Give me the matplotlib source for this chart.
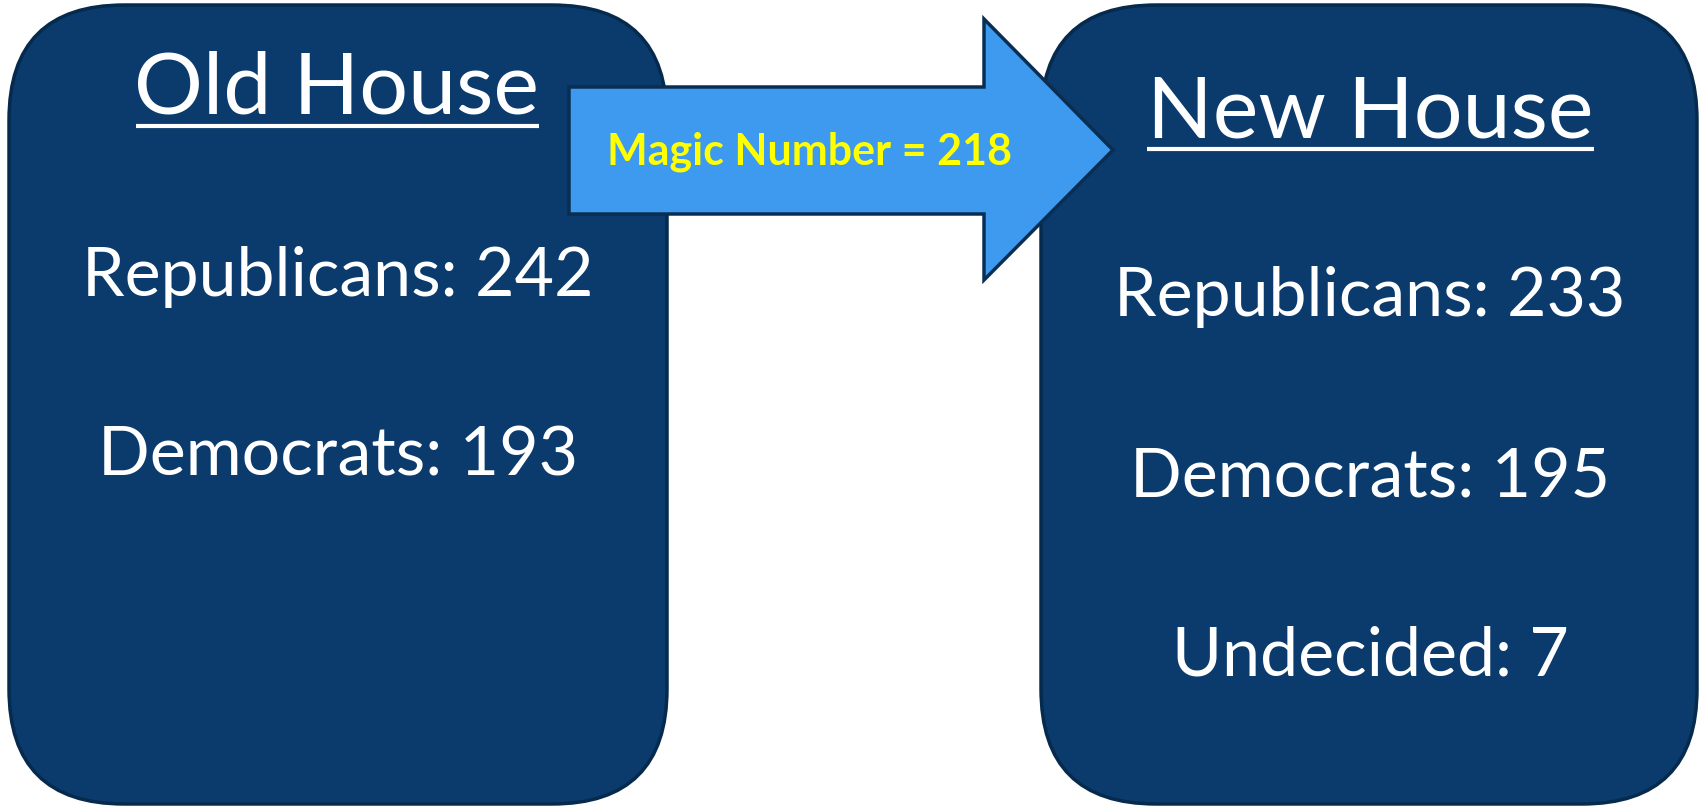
import matplotlib.pyplot as plt
from matplotlib.patches import FancyBboxPatch, Polygon

# data
old_title = 'Old House'
old_parties = ['Republicans', 'Democrats']
old_seats = [242, 193]

new_title = 'New House'
new_parties = ['Republicans', 'Democrats', 'Undecided']
new_seats = [233, 195, 7]

magic_number = 218

# colours
box_fill = '#0a3b6c'
box_edge = '#062a4d'
arrow_fill = '#3d9aee'
arrow_edge = '#0a2d52'

plt.rcParams['font.family'] = ['Lato', 'DejaVu Sans']

fig = plt.figure(figsize=(17, 8.08), dpi=100)
ax = fig.add_axes([0, 0, 1, 1])
ax.set_xlim(0, 1700)
ax.set_ylim(808, 0)
ax.axis('off')

# boxes (pixel coordinates, y down)
ax.add_patch(FancyBboxPatch((9, 5), 658, 799, boxstyle='round,pad=0,rounding_size=115',
                            fc=box_fill, ec=box_edge, lw=2.5, zorder=1))
ax.add_patch(FancyBboxPatch((1041, 5), 656, 799, boxstyle='round,pad=0,rounding_size=115',
                            fc=box_fill, ec=box_edge, lw=2.5, zorder=1))

# arrow
arrow_pts = [(569, 87), (984, 87), (984, 19), (1113, 150), (984, 280), (984, 214), (569, 214)]
ax.add_patch(Polygon(arrow_pts, closed=True, fc=arrow_fill, ec=arrow_edge, lw=2.5, zorder=3))
ax.text(810, 152, f'Magic Number = {magic_number}', color='#ffff00', fontsize=31,
        fontweight='bold', ha='center', va='center', zorder=4)

# titles with underline
ax.text(337, 89, old_title, color='white', fontsize=62, ha='center', va='center', zorder=2)
ax.plot([136, 539], [126, 126], color='white', lw=3, solid_capstyle='butt', zorder=2)
ax.text(1370, 114, new_title, color='white', fontsize=62, ha='center', va='center', zorder=2)
ax.plot([1147, 1594], [149, 149], color='white', lw=3, solid_capstyle='butt', zorder=2)

# party counts
old_y = [277, 456]
for p, s, y in zip(old_parties, old_seats, old_y):
    ax.text(338, y, f'{p}: {s}', color='white', fontsize=49, ha='center', va='center', zorder=2)

new_y = [297, 479, 656]
for p, s, y in zip(new_parties, new_seats, new_y):
    ax.text(1370, y, f'{p}: {s}', color='white', fontsize=49, ha='center', va='center', zorder=2)

fig.savefig('out.png', dpi=100, facecolor='white')
